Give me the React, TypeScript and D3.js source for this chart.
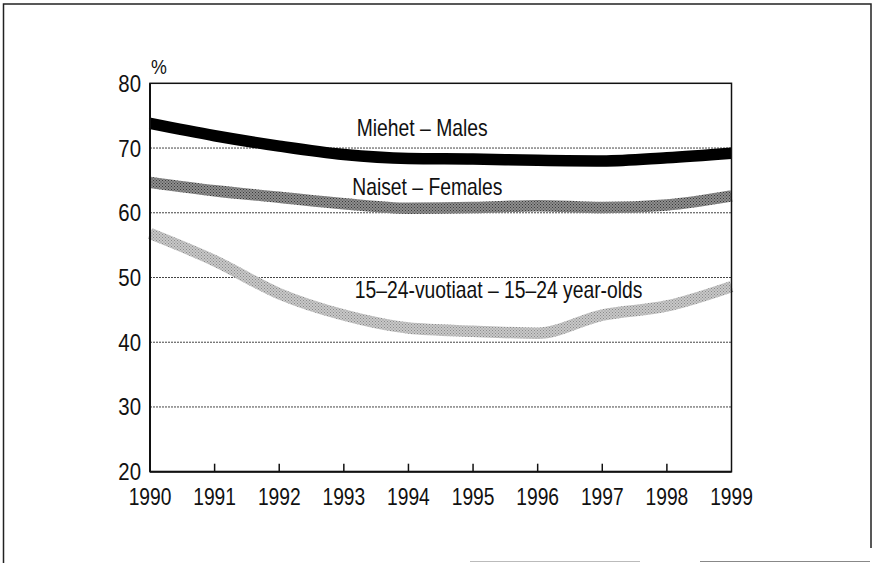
import React, { useEffect, useRef } from 'react'
import * as d3 from 'd3'

// vuodet / years
const years = [1990, 1991, 1992, 1993, 1994, 1995, 1996, 1997, 1998, 1999]
const males = [73.8, 71.9, 70.3, 69.0, 68.4, 68.3, 68.1, 68.0, 68.5, 69.2]
const females = [64.7, 63.4, 62.4, 61.4, 60.7, 60.8, 61.1, 60.8, 61.2, 62.6]
const youth = [56.8, 52.6, 47.5, 44.2, 42.2, 41.7, 41.4, 44.2, 45.6, 48.6]
const yTicks = [20, 30, 40, 50, 60, 70, 80]
const gridTicks = [30, 40, 50, 60, 70]

const labels = [
  { text: 'Miehet – Males', year: 1993.2, value: 71.9 },
  { text: 'Naiset – Females', year: 1993.13, value: 62.8 },
  { text: '15–24-vuotiaat – 15–24 year-olds', year: 1993.17, value: 46.8 },
]

const FONT = "'Liberation Sans', Arial, sans-serif"

const App = () => {
  const refSvg = useRef<SVGSVGElement>(null)

  const draw = () => {
    const root = d3.select(refSvg.current)
    root.selectAll('*').remove()
    const svg = root.attr('width', 873).attr('height', 563)

    const x = d3.scaleLinear().domain([1990, 1999]).range([150, 731.5])
    const y = d3.scaleLinear().domain([20, 80]).range([471.7, 83.3])

    // halftone-ish textures for the grey bands
    const defs = svg.append('defs')
    const halftone = (id: string, base: string, dot: string) => {
      const p = defs.append('pattern').attr('id', id)
        .attr('patternUnits', 'userSpaceOnUse').attr('width', 3).attr('height', 3)
      p.append('rect').attr('width', 3).attr('height', 3).attr('fill', base)
      p.append('rect').attr('x', 0).attr('y', 0).attr('width', 1).attr('height', 1).attr('fill', dot)
      p.append('rect').attr('x', 1.5).attr('y', 1.5).attr('width', 1).attr('height', 1).attr('fill', dot)
    }
    halftone('femTex', '#8e8e8e', '#3a3a3a')
    halftone('youTex', '#c8c8c8', '#8a8a8a')

    // condensed look: squeeze text horizontally
    const txt = (g: any, px: number, py: number, s: string | number, anchor: string, sx: number, size = 22) =>
      g.append('text')
        .attr('transform', `translate(${px},${py}) scale(${sx},1)`)
        .attr('text-anchor', anchor)
        .style('font-family', FONT).style('font-size', `${size}px`).attr('fill', '#111')
        .text(s)

    // outer frame
    svg.append('path')
      .attr('d', 'M3.5,563 L3.5,4 L871,4 L871,548')
      .attr('fill', 'none').attr('stroke', '#222').attr('stroke-width', 1.5)
    svg.append('line').attr('x1', 470).attr('x2', 640).attr('y1', 561.5).attr('y2', 561.5)
      .attr('stroke', '#bbb').attr('stroke-width', 1)
    svg.append('line').attr('x1', 700).attr('x2', 870).attr('y1', 561.5).attr('y2', 561.5)
      .attr('stroke', '#888').attr('stroke-width', 1)

    // grid
    svg.append('g').selectAll('line').data(gridTicks).enter().append('line')
      .attr('x1', x(1990)).attr('x2', x(1999))
      .attr('y1', (d) => y(d)).attr('y2', (d) => y(d))
      .attr('stroke', '#444').attr('stroke-width', 1).attr('stroke-dasharray', '2,1')

    // series
    const line = d3.line<number>()
      .x((_, i) => x(years[i]))
      .y((d) => y(d))
      .curve(d3.curveMonotoneX)

    const series = [
      { data: youth, color: 'url(#youTex)' },
      { data: females, color: 'url(#femTex)' },
      { data: males, color: '#000' },
    ]
    svg.append('g').selectAll('path').data(series).enter().append('path')
      .attr('d', (d) => line(d.data))
      .attr('fill', 'none')
      .attr('stroke', (d) => d.color)
      .attr('stroke-width', 11.5)

    // plot frame
    svg.append('rect')
      .attr('x', x(1990)).attr('y', y(80))
      .attr('width', x(1999) - x(1990)).attr('height', y(20) - y(80))
      .attr('fill', 'none').attr('stroke', '#111').attr('stroke-width', 1.5)
    svg.append('line').attr('x1', x(1990)).attr('x2', x(1990)).attr('y1', y(80)).attr('y2', y(20))
      .attr('stroke', '#111').attr('stroke-width', 2)
    svg.append('line').attr('x1', x(1990)).attr('x2', x(1999)).attr('y1', y(20)).attr('y2', y(20))
      .attr('stroke', '#111').attr('stroke-width', 2)

    // x ticks (inward)
    svg.append('g').selectAll('line').data(years.slice(1, -1)).enter().append('line')
      .attr('x1', (d) => x(d)).attr('x2', (d) => x(d))
      .attr('y1', y(20)).attr('y2', y(20) - 8)
      .attr('stroke', '#111').attr('stroke-width', 1.5)

    const xg = svg.append('g')
    years.forEach((d) => txt(xg, x(d), 505, d, 'middle', 0.8, 24))

    const yg = svg.append('g')
    yTicks.forEach((d) => txt(yg, 141, y(d) + 8.5, d, 'end', 0.85, 24))

    txt(svg, 151, 74, '%', 'start', 0.85, 21)

    const lg = svg.append('g')
    labels.forEach((d) => txt(lg, x(d.year), y(d.value), d.text, 'start', 0.84, 23))
  }

  useEffect(() => {
    document.body.style.margin = '0'
    if (refSvg.current) {
      draw()
    }
  })

  return <svg ref={refSvg} style={{ display: 'block', background: '#fff' }} />
}

export default App
